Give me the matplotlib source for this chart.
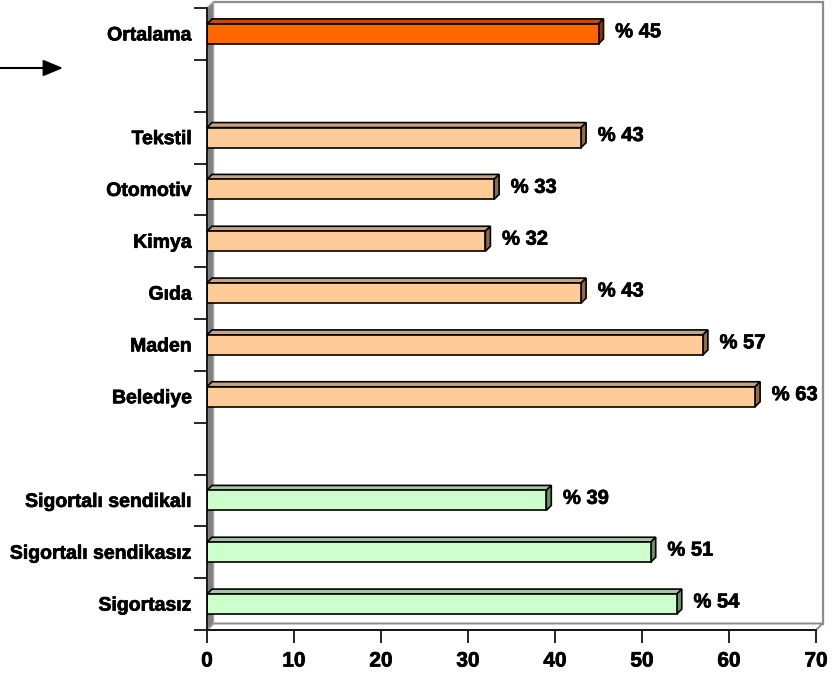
import matplotlib
matplotlib.use("Agg")
import matplotlib.pyplot as plt
from matplotlib.patches import Polygon, FancyArrowPatch
import matplotlib.patheffects as pe
import numpy as np

plt.rcParams['font.family'] = ['Liberation Sans', 'DejaVu Sans']
plt.rcParams['font.weight'] = 'bold'

# Rows from bottom to top; empty strings are spacer rows
categories = ["Sigortasız", "Sigortalı sendikasız", "Sigortalı sendikalı", "",
              "Belediye", "Maden", "Gıda", "Kimya", "Otomotiv", "Tekstil", "",
              "Ortalama"]
values = [54, 51, 39, None, 63, 57, 43, 32, 33, 43, None, 45]
groups = ["sig", "sig", "sig", None, "sec", "sec", "sec", "sec", "sec", "sec", None, "avg"]
x_ticks = [0, 10, 20, 30, 40, 50, 60, 70]

front_colors = {"sig": "#CCFFCC", "sec": "#FFCC99", "avg": "#FF6600"}
top_colors = {"sig": "#A3C8A3", "sec": "#CCA47C", "avg": "#C04C00"}
side_colors = {"sig": "#6F8F6F", "sec": "#8C6C4E", "avg": "#8A3700"}

# slightly heavier glyph strokes
heavy = [pe.withStroke(linewidth=0.5, foreground="black")]

W, H, DPI = 836, 679, 100
fig = plt.figure(figsize=(W / DPI, H / DPI), dpi=DPI)
left_px, right_px, bottom_px, top_px = 207, 816, 630, 8
ax = fig.add_axes([left_px / W, (H - bottom_px) / H,
                   (right_px - left_px) / W, (bottom_px - top_px) / H])

xmin, xmax = 0, 70
ymin, ymax = -0.5, len(categories) - 0.5
ax.set_xlim(xmin, xmax)
ax.set_ylim(ymin, ymax)

# pixel -> data conversions for the pseudo-3D depth
px_x = (xmax - xmin) / (right_px - left_px)
px_y = (ymax - ymin) / (bottom_px - top_px)
wall_dx, wall_dy = 6.5 * px_x, 6.5 * px_y
bar_dx, bar_dy = 5 * px_x, 5 * px_y

wall_edge = "#8C8C8C"
# back wall outline
ax.plot([wall_dx, xmax + wall_dx, xmax + wall_dx],
        [ymax + wall_dy, ymax + wall_dy, ymin + wall_dy],
        color=wall_edge, lw=1.6, clip_on=False, zorder=1,
        solid_joinstyle='miter')
# floor
floor = Polygon([(xmin, ymin), (xmax, ymin), (xmax + wall_dx, ymin + wall_dy),
                 (xmin + wall_dx, ymin + wall_dy)], closed=True,
                facecolor="white", edgecolor=wall_edge, lw=1.4, clip_on=False, zorder=1)
ax.add_patch(floor)
# left wall
lwall = Polygon([(xmin, ymin), (xmin + wall_dx, ymin + wall_dy),
                 (xmin + wall_dx, ymax + wall_dy), (xmin, ymax)], closed=True,
                facecolor="#808080", edgecolor="#A6A6A6", lw=1.0, clip_on=False, zorder=2)
ax.add_patch(lwall)

bar_h = 20 * px_y
half = bar_h / 2
for i, (v, g) in enumerate(zip(values, groups)):
    if v is None:
        continue
    ax.barh(i, v, height=bar_h, left=0, color=front_colors[g],
            edgecolor="black", linewidth=1.2, zorder=4)
    top = Polygon([(0, i + half), (v, i + half), (v + bar_dx, i + half + bar_dy),
                   (bar_dx, i + half + bar_dy)], closed=True,
                  facecolor=top_colors[g], edgecolor="black", lw=1.2,
                  clip_on=False, zorder=3)
    side = Polygon([(v, i - half), (v + bar_dx, i - half + bar_dy),
                    (v + bar_dx, i + half + bar_dy), (v, i + half)], closed=True,
                   facecolor=side_colors[g], edgecolor="black", lw=1.2,
                   clip_on=False, zorder=3)
    ax.add_patch(top)
    ax.add_patch(side)
    ax.annotate(f"% {v}", xy=(v, i), xytext=(12, 1.5), textcoords="offset points",
                ha="left", va="center", fontsize=14.5, fontweight="bold",
                color="black", annotation_clip=False, zorder=6,
                path_effects=heavy)

# axes lines
for s in ["top", "right"]:
    ax.spines[s].set_visible(False)
for s in ["left", "bottom"]:
    ax.spines[s].set_linewidth(1.2)
    ax.spines[s].set_color("black")
    ax.spines[s].set_zorder(5)

ax.set_xticks(x_ticks)
ax.set_xticklabels([str(t) for t in x_ticks], fontsize=15, fontweight="bold")
ax.tick_params(axis="x", direction="out", length=9.5, width=1.2, pad=6)

ax.set_yticks(np.arange(ymin, ymax + 0.01, 1.0))
ax.set_yticklabels([])
ax.tick_params(axis="y", which="major", direction="out", length=9.5, width=1.2)
ax.set_yticks(np.arange(len(categories)), minor=True)
ax.set_yticklabels(categories, minor=True, fontsize=14, fontweight="bold")
ax.tick_params(axis="y", which="minor", length=0, pad=11)

for lbl in ax.get_xticklabels() + ax.get_yticklabels(minor=True):
    lbl.set_path_effects(heavy)

ax.set_facecolor("none")

# pointer arrow at the left edge
fig.patches.append(FancyArrowPatch(
    (0, H - 68), (63, H - 68), transform=None,
    arrowstyle="-|>,head_length=1.2,head_width=0.5", mutation_scale=10,
    lw=1.5, color="black", shrinkA=0, shrinkB=0))

fig.savefig("out.png", dpi=DPI)
